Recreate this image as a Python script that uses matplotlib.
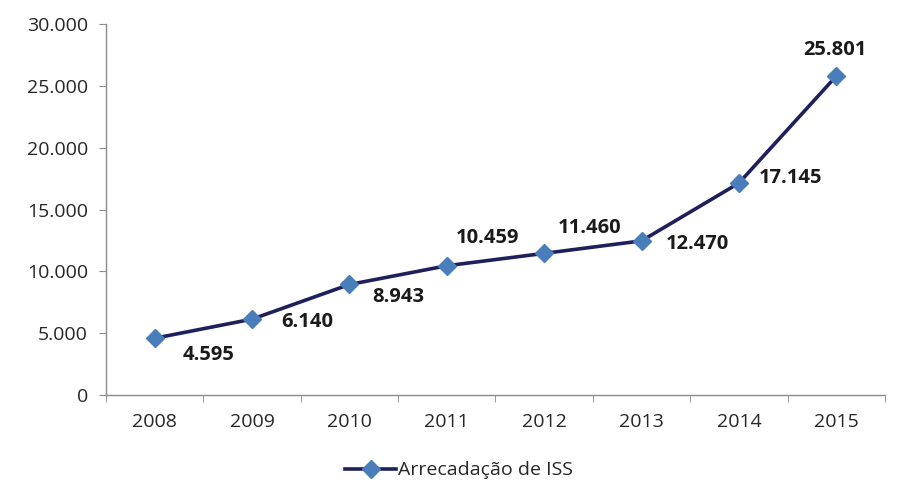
import matplotlib.pyplot as plt
from matplotlib.ticker import FuncFormatter

# ISS collected per year
anos = ["2008", "2009", "2010", "2011", "2012", "2013", "2014", "2015"]
arrecadacao = [4595, 6140, 8943, 10459, 11460, 12470, 17145, 25801]

# label offsets in points (x, y), relative to each marker
offsets = [(39, -12), (40, -2), (35, -9), (29, 20), (33, 18), (40, -2), (37, 4), (-1, 19)]

plt.rcParams['font.family'] = ['Open Sans', 'DejaVu Sans']

fig = plt.figure(figsize=(9, 4.92), dpi=100)
ax = fig.add_axes([0.1178, 0.197, 0.8655, 0.754])

x = range(len(anos))
ax.plot(x, arrecadacao, color='#1f1f5c', lw=2.6, marker='D', markersize=9.5,
        markerfacecolor='#4a7ebb', markeredgecolor='#4a7ebb',
        label='Arrecadação de ISS', zorder=3)

def fmt(v):
    return f"{v:,.0f}".replace(",", ".")

for xi, v, (dx, dy) in zip(x, arrecadacao, offsets):
    ax.annotate(fmt(v), (xi, v), xytext=(dx, dy), textcoords='offset points',
                ha='center', va='center', fontsize=14.5, fontweight='bold',
                color='#1a1a1a')

ax.set_xlim(-0.5, len(anos) - 0.5)
ax.set_ylim(0, 30000)
ax.set_yticks(range(0, 30001, 5000))
ax.yaxis.set_major_formatter(FuncFormatter(lambda v, p: fmt(v)))
ax.set_xticks(list(x))
ax.set_xticklabels(anos)
ax.set_xticks([i - 0.5 for i in range(len(anos) + 1)], minor=True)

for s in ['top', 'right']:
    ax.spines[s].set_visible(False)
for s in ['left', 'bottom']:
    ax.spines[s].set_color('#8c8c8c')
    ax.spines[s].set_linewidth(1)

ax.tick_params(axis='y', length=5, color='#8c8c8c', labelsize=14,
               labelcolor='#262626', pad=8)
ax.tick_params(axis='x', which='major', length=0, labelsize=14,
               labelcolor='#262626', pad=13)
ax.tick_params(axis='x', which='minor', length=5, color='#8c8c8c')

fig.legend(loc='lower center', bbox_to_anchor=(0.51, -0.01), frameon=False,
           fontsize=14, handlelength=2.6, handletextpad=0.1,
           labelcolor='#262626')

fig.savefig('out.png', dpi=100)
